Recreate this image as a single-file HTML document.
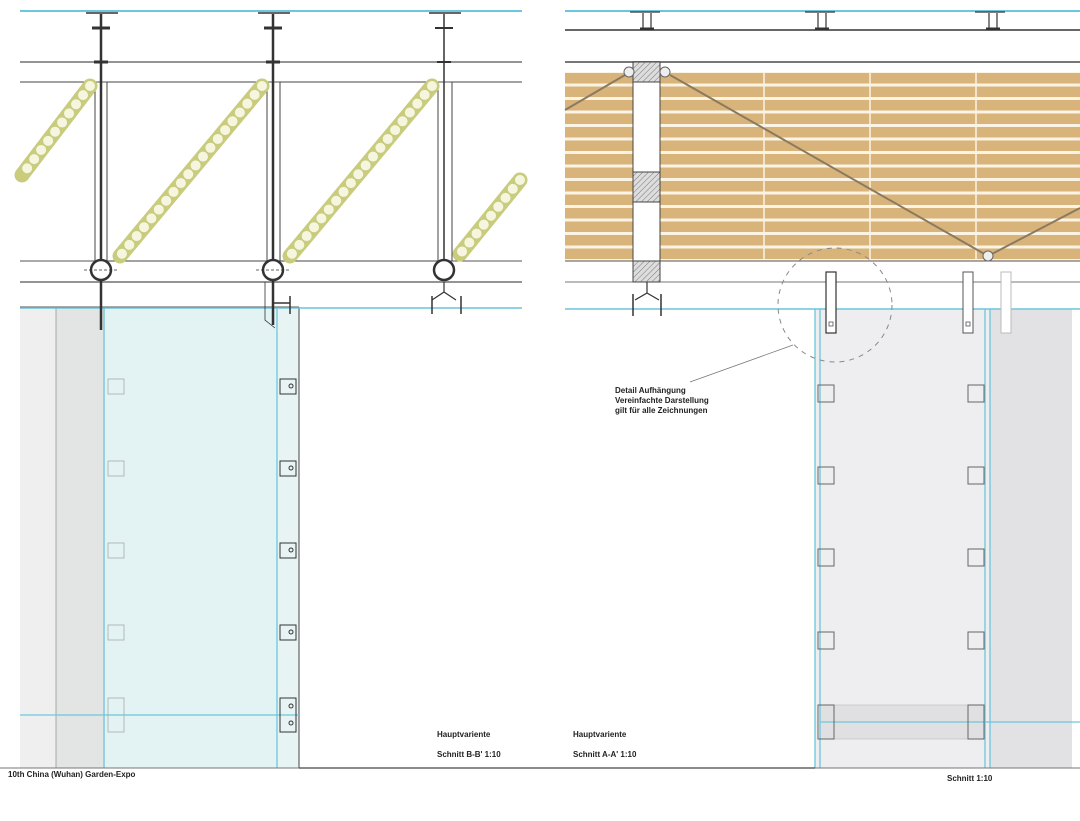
<!DOCTYPE html>
<html><head><meta charset="utf-8"><style>
html,body{margin:0;padding:0;background:#fff;}
svg{display:block;}
text{font-family:"Liberation Sans",sans-serif;font-weight:bold;fill:#222;}
</style></head><body>
<svg width="1080" height="821" viewBox="0 0 1080 821" xmlns="http://www.w3.org/2000/svg">
<defs>
<pattern id="wood" x="0" y="72" width="40" height="13.5" patternUnits="userSpaceOnUse">
<rect width="40" height="13.5" fill="#fbf4e4"/>
<rect y="1" width="40" height="10.5" fill="#d8b47a"/>
</pattern>
<pattern id="hatch" width="4" height="4" patternUnits="userSpaceOnUse" patternTransform="rotate(45)">
<rect width="4" height="4" fill="#ddd"/><line x1="0" y1="0" x2="0" y2="4" stroke="#777" stroke-width="1"/>
</pattern>
</defs>

<!-- LEFT PANEL lower fills -->
<rect x="20" y="307" width="36" height="461" fill="#efeff0"/>
<rect x="56" y="307" width="49" height="461" fill="#e2e5e4"/>
<rect x="105" y="307" width="172" height="461" fill="#e3f2f2"/>
<rect x="277" y="307" width="22" height="461" fill="#e8f3f3"/>
<line x1="56" y1="307" x2="56" y2="768" stroke="#999" stroke-width="0.8"/>
<line x1="104" y1="307" x2="104" y2="768" stroke="#6cc6dc" stroke-width="1.3"/>
<line x1="277" y1="307" x2="277" y2="768" stroke="#6cc6dc" stroke-width="1.3"/>
<line x1="299" y1="307" x2="299" y2="768" stroke="#444" stroke-width="1"/>
<line x1="20" y1="715" x2="299" y2="715" stroke="#6cc6dc" stroke-width="1.3"/>
<!-- left brackets -->
<g fill="none" stroke="#aaa" stroke-width="0.8">
<rect x="108" y="379" width="16" height="15"/><rect x="108" y="461" width="16" height="15"/>
<rect x="108" y="543" width="16" height="15"/><rect x="108" y="625" width="16" height="15"/>
<rect x="108" y="698" width="16" height="34"/>
</g>
<g fill="none" stroke="#333" stroke-width="1">
<rect x="280" y="379" width="16" height="15"/><rect x="280" y="461" width="16" height="15"/>
<rect x="280" y="543" width="16" height="15"/><rect x="280" y="625" width="16" height="15"/>
<rect x="280" y="698" width="16" height="34"/>
<circle cx="291" cy="386" r="2"/><circle cx="291" cy="468" r="2"/><circle cx="291" cy="550" r="2"/><circle cx="291" cy="632" r="2"/><circle cx="291" cy="706" r="2"/><circle cx="291" cy="723" r="2"/>
</g>

<!-- left top structure -->
<line x1="20" y1="11" x2="522" y2="11" stroke="#6cc6dc" stroke-width="2"/>
<line x1="20" y1="62" x2="522" y2="62" stroke="#555" stroke-width="1.2"/>
<line x1="20" y1="82" x2="522" y2="82" stroke="#555" stroke-width="1"/>
<line x1="20" y1="261" x2="522" y2="261" stroke="#555" stroke-width="1"/>
<line x1="20" y1="282" x2="522" y2="282" stroke="#555" stroke-width="1.2"/>
<line x1="20" y1="307" x2="299" y2="307" stroke="#555" stroke-width="1"/>
<line x1="20" y1="308" x2="522" y2="308" stroke="#6cc6dc" stroke-width="1.5"/>
<g fill="none" stroke="#444" stroke-width="1">
<polyline points="20,82 95,82 95,261"/>
<rect x="107" y="82" width="160" height="179"/>
<rect x="280" y="82" width="158" height="179"/>
<polyline points="522,82 452,82 452,261"/>
</g>
<!-- bamboo diagonals -->
<g stroke-linecap="round">
<line x1="90" y1="86" x2="22" y2="175" stroke="#c8cc7c" stroke-width="15"/>
<line x1="90" y1="86" x2="22" y2="175" stroke="#f6f6e0" stroke-width="10" stroke-dasharray="0 11.5"/>
<line x1="262" y1="86" x2="120" y2="256" stroke="#c8cc7c" stroke-width="15"/>
<line x1="262" y1="86" x2="120" y2="256" stroke="#f6f6e0" stroke-width="10" stroke-dasharray="0 11.5"/>
<line x1="432" y1="86" x2="290" y2="256" stroke="#c8cc7c" stroke-width="15"/>
<line x1="432" y1="86" x2="290" y2="256" stroke="#f6f6e0" stroke-width="10" stroke-dasharray="0 11.5"/>
<line x1="520" y1="180" x2="460" y2="254" stroke="#c8cc7c" stroke-width="15"/>
<line x1="520" y1="180" x2="460" y2="254" stroke="#f6f6e0" stroke-width="10" stroke-dasharray="0 11.5"/>
</g>
<!-- posts -->
<g stroke="#333" fill="none">
<line x1="101" y1="14" x2="101" y2="330" stroke-width="2.5"/>
<line x1="273" y1="14" x2="273" y2="325" stroke-width="2.5"/>
<line x1="444" y1="14" x2="444" y2="262" stroke-width="1.5"/>
<circle cx="101" cy="270" r="10" stroke-width="2.5" fill="#fff"/>
<circle cx="273" cy="270" r="10" stroke-width="2.5" fill="#fff"/>
<circle cx="444" cy="270" r="10" stroke-width="2.5" fill="#fff"/>
<line x1="84" y1="270" x2="118" y2="270" stroke-dasharray="3 2" stroke-width="0.8"/>
<line x1="256" y1="270" x2="290" y2="270" stroke-dasharray="3 2" stroke-width="0.8"/>
<line x1="92" y1="28" x2="110" y2="28" stroke-width="3"/>
<line x1="264" y1="28" x2="282" y2="28" stroke-width="3"/>
<line x1="435" y1="28" x2="453" y2="28" stroke-width="2"/>
<line x1="86" y1="13" x2="118" y2="13" stroke-width="1.5"/>
<line x1="258" y1="13" x2="290" y2="13" stroke-width="1.5"/>
<line x1="429" y1="13" x2="461" y2="13" stroke-width="1.5"/>
<line x1="94" y1="62" x2="108" y2="62" stroke-width="3"/>
<line x1="266" y1="62" x2="280" y2="62" stroke-width="3"/>
<line x1="437" y1="62" x2="451" y2="62" stroke-width="2"/>
<path d="M265,282 L265,320 L275,328" stroke-width="0.8"/>
<path d="M273,303 L290,303" stroke-width="1.5"/>
<path d="M444,282 L444,292 L432,300 M444,292 L456,300" stroke-width="1.2"/>
<line x1="432" y1="296" x2="432" y2="314" stroke-width="1.5"/>
<line x1="461" y1="296" x2="461" y2="314" stroke-width="1.5"/>
<line x1="290" y1="296" x2="290" y2="314" stroke-width="1.5"/>
</g>

<!-- RIGHT PANEL -->
<rect x="815" y="309" width="175" height="459" fill="#eeeef0"/>
<rect x="990" y="309" width="82" height="459" fill="#e2e2e4"/>
<rect x="820" y="705" width="165" height="34" fill="#e0e0e3" stroke="#bbb" stroke-width="0.6"/>
<g stroke="#6cc6dc" stroke-width="1.3">
<line x1="815" y1="309" x2="815" y2="768"/><line x1="820" y1="309" x2="820" y2="768"/>
<line x1="985" y1="309" x2="985" y2="768"/><line x1="990" y1="309" x2="990" y2="768"/>
<line x1="820" y1="722" x2="1080" y2="722"/>
</g>
<g fill="none" stroke="#666" stroke-width="1">
<rect x="818" y="385" width="16" height="17"/><rect x="818" y="467" width="16" height="17"/>
<rect x="818" y="549" width="16" height="17"/><rect x="818" y="632" width="16" height="17"/>
<rect x="818" y="705" width="16" height="34"/>
<rect x="968" y="385" width="16" height="17"/><rect x="968" y="467" width="16" height="17"/>
<rect x="968" y="549" width="16" height="17"/><rect x="968" y="632" width="16" height="17"/>
<rect x="968" y="705" width="16" height="34"/>
</g>

<line x1="565" y1="11" x2="1080" y2="11" stroke="#6cc6dc" stroke-width="2"/>
<line x1="565" y1="30" x2="1080" y2="30" stroke="#333" stroke-width="1.5"/>
<line x1="565" y1="62" x2="1080" y2="62" stroke="#777" stroke-width="2"/>
<rect x="565" y="72" width="515" height="189" fill="url(#wood)"/>
<g stroke="#fbf4e4" stroke-width="1.5">
<line x1="764" y1="72" x2="764" y2="261"/><line x1="870" y1="72" x2="870" y2="261"/><line x1="976" y1="72" x2="976" y2="261"/>
</g>
<line x1="565" y1="261" x2="1080" y2="261" stroke="#555" stroke-width="1"/>
<line x1="565" y1="282" x2="1080" y2="282" stroke="#777" stroke-width="1"/>
<line x1="565" y1="309" x2="1080" y2="309" stroke="#6cc6dc" stroke-width="1.5"/>
<!-- column -->
<rect x="633" y="62" width="27" height="220" fill="#fff" stroke="#444"/>
<rect x="633" y="62" width="27" height="20" fill="url(#hatch)" stroke="#444"/>
<rect x="633" y="172" width="27" height="30" fill="url(#hatch)" stroke="#444"/>
<rect x="633" y="261" width="27" height="21" fill="url(#hatch)" stroke="#444"/>
<!-- cable -->
<polyline points="565,110 625,75" fill="none" stroke="#8a7a60" stroke-width="2"/>
<polyline points="670,75 988,256 1080,208" fill="none" stroke="#8a7a60" stroke-width="2"/>
<circle cx="629" cy="72" r="5" fill="#eee" stroke="#666"/>
<circle cx="665" cy="72" r="5" fill="#eee" stroke="#666"/>
<circle cx="988" cy="256" r="5" fill="#eee" stroke="#666"/>
<g stroke="#333" stroke-width="1.2">
<line x1="630" y1="12" x2="660" y2="12"/><line x1="805" y1="12" x2="835" y2="12"/><line x1="975" y1="12" x2="1005" y2="12"/>
<line x1="643" y1="13" x2="643" y2="29"/><line x1="651" y1="13" x2="651" y2="29"/>
<line x1="818" y1="13" x2="818" y2="29"/><line x1="826" y1="13" x2="826" y2="29"/>
<line x1="989" y1="13" x2="989" y2="29"/><line x1="997" y1="13" x2="997" y2="29"/>
<line x1="640" y1="29" x2="654" y2="29" stroke-width="3"/><line x1="815" y1="29" x2="829" y2="29" stroke-width="3"/><line x1="986" y1="29" x2="1000" y2="29" stroke-width="3"/>
<path d="M647,282 L647,293 L635,300 M647,293 L659,300" fill="none"/>
<line x1="633" y1="294" x2="633" y2="316" stroke-width="1.5"/>
<line x1="661" y1="294" x2="661" y2="316" stroke-width="1.5"/>
</g>
<!-- hangers -->
<rect x="826" y="272" width="10" height="61" fill="#fff" stroke="#333" stroke-width="1.2"/>
<rect x="963" y="272" width="10" height="61" fill="#fff" stroke="#555" stroke-width="1"/>
<rect x="1001" y="272" width="10" height="61" fill="#fff" stroke="#bbb" stroke-width="1"/>
<rect x="829" y="322" width="4" height="4" fill="none" stroke="#555" stroke-width="0.8"/>
<rect x="966" y="322" width="4" height="4" fill="none" stroke="#555" stroke-width="0.8"/>
<circle cx="835" cy="305" r="57" fill="none" stroke="#888" stroke-width="1" stroke-dasharray="5 5"/>
<line x1="793" y1="345" x2="690" y2="382" stroke="#777" stroke-width="0.8"/>
<text x="615" y="393" font-size="8">Detail Aufhängung</text>
<text x="615" y="403" font-size="8">Vereinfachte Darstellung</text>
<text x="615" y="413" font-size="8">gilt für alle Zeichnungen</text>

<!-- bottom -->
<line x1="0" y1="768" x2="1080" y2="768" stroke="#777" stroke-width="1"/>
<line x1="299" y1="768" x2="815" y2="768" stroke="#444" stroke-width="1.2"/>
<text x="437" y="737" font-size="8">Hauptvariente</text>
<text x="437" y="757" font-size="8">Schnitt B-B' 1:10</text>
<text x="573" y="737" font-size="8">Hauptvariente</text>
<text x="573" y="757" font-size="8">Schnitt A-A' 1:10</text>
<text x="8" y="777" font-size="8">10th China (Wuhan) Garden-Expo</text>
<text x="947" y="781" font-size="8">Schnitt 1:10</text>
</svg>
</body></html>
